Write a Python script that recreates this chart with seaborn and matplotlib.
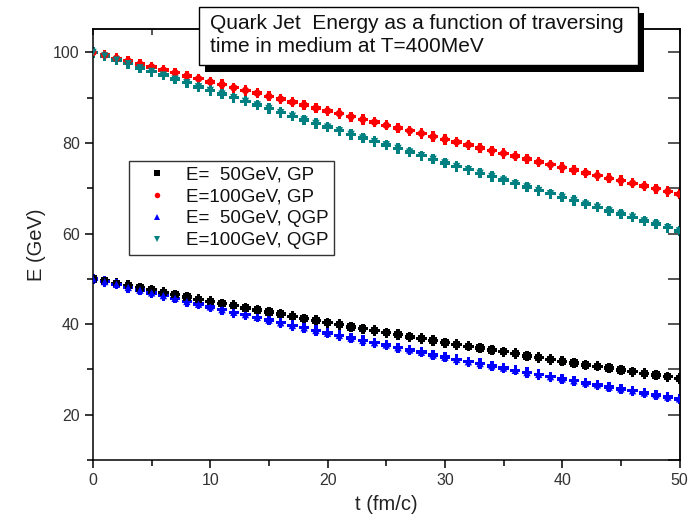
import numpy as np
import pandas as pd
import matplotlib
matplotlib.use("Agg")
import matplotlib.pyplot as plt
from matplotlib.patches import Rectangle
import seaborn as sns

t = list(range(0, 51))

e50_gp = [50.0, 49.5, 49.0, 48.5, 48.0, 47.5, 47.0, 46.5, 46.0, 45.5, 45.0,
          44.5, 44.1, 43.6, 43.1, 42.7, 42.2, 41.7, 41.2, 40.8, 40.3,
          39.9, 39.4, 39.0, 38.6, 38.1, 37.7, 37.2, 36.8, 36.4, 35.9,
          35.5, 35.1, 34.7, 34.3, 33.9, 33.5, 33.0, 32.6, 32.2, 31.8,
          31.4, 31.0, 30.7, 30.3, 29.9, 29.5, 29.1, 28.8, 28.4, 28.0]
e100_gp = [100.0, 99.4, 98.7, 98.1, 97.4, 96.8, 96.1, 95.5, 94.8, 94.2, 93.5,
           92.9, 92.2, 91.6, 91.0, 90.3, 89.7, 89.0, 88.4, 87.7, 87.1,
           86.5, 85.8, 85.2, 84.6, 83.9, 83.3, 82.7, 82.1, 81.4, 80.8,
           80.2, 79.6, 78.9, 78.3, 77.7, 77.1, 76.5, 75.8, 75.2, 74.6,
           74.0, 73.4, 72.8, 72.2, 71.7, 71.1, 70.5, 69.9, 69.3, 68.7]
e50_qgp = [50.0, 49.4, 48.8, 48.1, 47.5, 46.9, 46.3, 45.7, 45.0, 44.4, 43.8,
           43.2, 42.6, 42.1, 41.5, 40.9, 40.3, 39.7, 39.2, 38.6, 38.0,
           37.5, 36.9, 36.4, 35.9, 35.4, 34.8, 34.3, 33.8, 33.2, 32.7,
           32.2, 31.7, 31.3, 30.8, 30.3, 29.8, 29.3, 28.9, 28.4, 27.9,
           27.5, 27.0, 26.6, 26.1, 25.7, 25.3, 24.8, 24.4, 23.9, 23.5]
e100_qgp = [100.0, 99.2, 98.3, 97.5, 96.6, 95.8, 95.0, 94.1, 93.3, 92.4, 91.6,
            90.8, 90.0, 89.2, 88.4, 87.6, 86.7, 85.9, 85.1, 84.3, 83.5,
            82.7, 81.9, 81.1, 80.3, 79.6, 78.8, 78.0, 77.2, 76.4, 75.6,
            74.8, 74.1, 73.3, 72.6, 71.8, 71.0, 70.3, 69.5, 68.8, 68.0,
            67.3, 66.5, 65.8, 65.0, 64.3, 63.6, 62.8, 62.1, 61.3, 60.6]

labels = ["E=  50GeV, GP", "E=100GeV, GP", "E=  50GeV, QGP", "E=100GeV, QGP"]
colors = ["#000000", "#ff0000", "#0000ff", "#008080"]
marker_list = ["s", "o", "^", "v"]
series = [e50_gp, e100_gp, e50_qgp, e100_qgp]

title_text = "Quark Jet  Energy as a function of traversing\ntime in medium at T=400MeV"

frames = []
for lab, vals in zip(labels, series):
    frames.append(pd.DataFrame({"t": t, "E": vals, "series": lab}))
df = pd.concat(frames, ignore_index=True)

sns.set_theme(style="ticks")
plt.rcParams["font.family"] = ["Liberation Sans", "DejaVu Sans"]

fig = plt.figure(figsize=(6.93, 5.29), dpi=100)
ax = fig.add_axes([93 / 693, 1 - 460 / 529, 586.5 / 693, 430.7 / 529])

pal = dict(zip(labels, colors))
mk = dict(zip(labels, marker_list))

# overlay plus shapes (the blurred cross look of the points)
sns.scatterplot(data=df, x="t", y="E", hue="series", palette=pal, marker="P",
                s=55, linewidth=0, legend=False, ax=ax, zorder=2)
sns.scatterplot(data=df, x="t", y="E", hue="series", style="series",
                palette=pal, markers=mk, s=28, linewidth=0, ax=ax, zorder=3)

ax.set_xlim(0, 50)
ax.set_ylim(10, 105.1)
ax.set_xticks([0, 10, 20, 30, 40, 50])
ax.set_yticks([20, 40, 60, 80, 100])
ax.set_xticks([5, 15, 25, 35, 45], minor=True)
ax.set_yticks([10, 30, 50, 70, 90], minor=True)
ax.tick_params(axis="both", which="major", direction="out", length=6, width=1.1,
               labelsize=11.5, labelcolor="#333333", color="black")
ax.tick_params(axis="both", which="minor", direction="out", length=4, width=1.1,
               color="black")
ax.tick_params(axis="both", which="both", top=False, right=False)

# inward ticks on top and right
axt = ax.secondary_xaxis("top")
axt.set_xticks([0, 5, 10, 15, 20, 25, 30, 35, 40, 45, 50])
axt.tick_params(direction="in", length=4, width=1.1, labeltop=False)
axr = ax.secondary_yaxis("right")
axr.set_yticks([10, 20, 30, 40, 50, 60, 70, 80, 90, 100])
axr.tick_params(direction="in", length=9, width=1.1, labelright=False)
for s in axt.spines.values():
    s.set_linewidth(1.1)
for s in axr.spines.values():
    s.set_linewidth(1.1)

for s in ax.spines.values():
    s.set_linewidth(1.1)
    s.set_color("black")

ax.set_xlabel("t (fm/c)", fontsize=14.5, color="#222222", labelpad=5)
ax.set_ylabel("E (GeV)", fontsize=14.5, color="#222222", labelpad=5)

leg = ax.legend(loc="upper left", bbox_to_anchor=(0.062, 0.694), borderaxespad=0,
                fontsize=13.5, frameon=True, fancybox=False, shadow=False,
                handlelength=2.4, handletextpad=0.3, labelspacing=0.25,
                borderpad=0.3, markerscale=0.75, title=None)
leg.get_frame().set_edgecolor("black")
leg.get_frame().set_linewidth(1.0)
for txt in leg.get_texts():
    txt.set_color("#111111")

# title box with shadow, in figure pixels
W, H = 693.0, 529.0
def fr(x, y, w, h):
    return (x / W, 1 - (y + h) / H), w / W, h / H
xy, w, h = fr(205, 13, 439, 58.5)
fig.add_artist(Rectangle(xy, w, h, transform=fig.transFigure, facecolor="black",
                         edgecolor="none", zorder=10))
xy, w, h = fr(199.3, 7.3, 438.4, 58)
fig.add_artist(Rectangle(xy, w, h, transform=fig.transFigure, facecolor="white",
                         edgecolor="black", linewidth=1.0, zorder=11))
fig.text(210 / W, 1 - 14 / H, title_text, ha="left", va="top", fontsize=15,
         color="#111111", linespacing=1.3, zorder=12)

fig.savefig("out.png", dpi=100)
